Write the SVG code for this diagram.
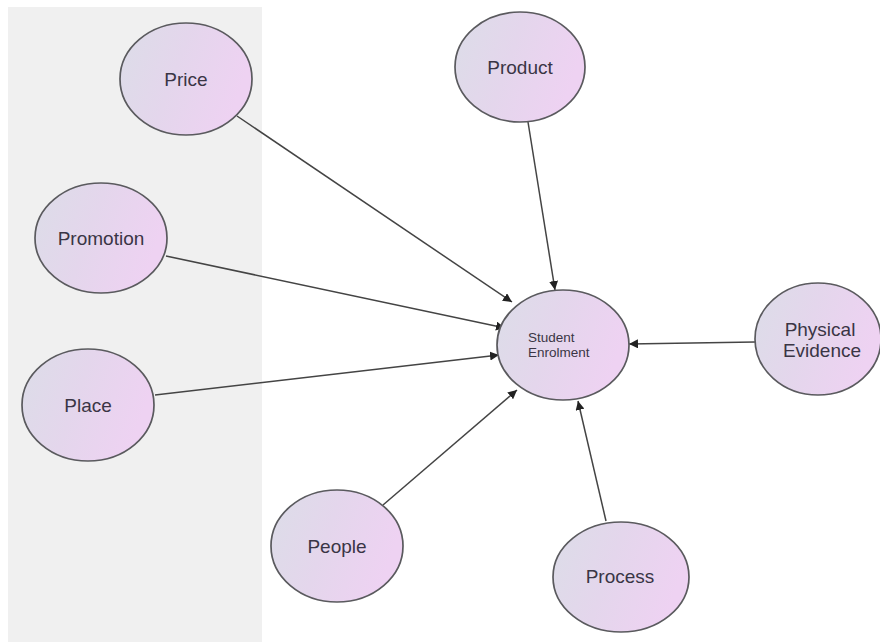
<svg xmlns="http://www.w3.org/2000/svg" width="880" height="642" viewBox="0 0 880 642">
<defs>
<linearGradient id="g" x1="0" y1="0" x2="1" y2="0.3">
<stop offset="0" stop-color="#dcdde8"/>
<stop offset="0.5" stop-color="#e4d6ec"/>
<stop offset="1" stop-color="#eed2f2"/>
</linearGradient>
<marker id="a" viewBox="0 0 10 10" refX="10" refY="5" markerWidth="9" markerHeight="9" markerUnits="userSpaceOnUse" orient="auto">
<path d="M0,0 L10,5 L0,10 z" fill="#222"/>
</marker>
</defs>
<style>
.n ellipse{fill:url(#g);stroke:#5a5a5e;stroke-width:1.7}
.n text{font-family:"Liberation Sans",Arial,sans-serif;font-size:19px;fill:#3a3545;text-anchor:middle}
.n text.s{font-size:13.5px;text-anchor:start}
.c line{stroke:#444;stroke-width:1.5;marker-end:url(#a)}
</style>
<rect x="0" y="0" width="880" height="642" fill="#ffffff"/>
<rect x="8" y="7" width="254" height="635" fill="#f0f0f0"/>
<g class="c" id="connectors">
<line x1="237" y1="116" x2="512" y2="302"/>
<line x1="528" y1="122" x2="555" y2="290"/>
<line x1="166" y1="256" x2="505" y2="328"/>
<line x1="155" y1="395" x2="499" y2="355"/>
<line x1="383" y1="505" x2="517" y2="390"/>
<line x1="606" y1="521" x2="578" y2="401"/>
<line x1="755" y1="342" x2="629" y2="344"/>
</g>
<g class="n" id="price"><ellipse cx="186" cy="79" rx="66" ry="56"/><text x="186" y="86">Price</text></g>
<g class="n" id="promotion"><ellipse cx="101" cy="238" rx="66" ry="55"/><text x="101" y="245">Promotion</text></g>
<g class="n" id="place"><ellipse cx="88" cy="405" rx="66" ry="56"/><text x="88" y="412">Place</text></g>
<g class="n" id="product"><ellipse cx="520" cy="67" rx="65" ry="55"/><text x="520" y="74">Product</text></g>
<g class="n" id="student"><ellipse cx="563" cy="345" rx="66" ry="55"/><text class="s" x="528" y="342">Student</text><text class="s" x="528" y="357">Enrolment</text></g>
<g class="n" id="physical"><ellipse cx="818" cy="339" rx="63" ry="56"/><text x="820" y="336">Physical</text><text x="822" y="357">Evidence</text></g>
<g class="n" id="people"><ellipse cx="337" cy="546" rx="66" ry="56"/><text x="337" y="553">People</text></g>
<g class="n" id="process"><ellipse cx="621" cy="577" rx="68" ry="55"/><text x="620" y="583">Process</text></g>
</svg>
